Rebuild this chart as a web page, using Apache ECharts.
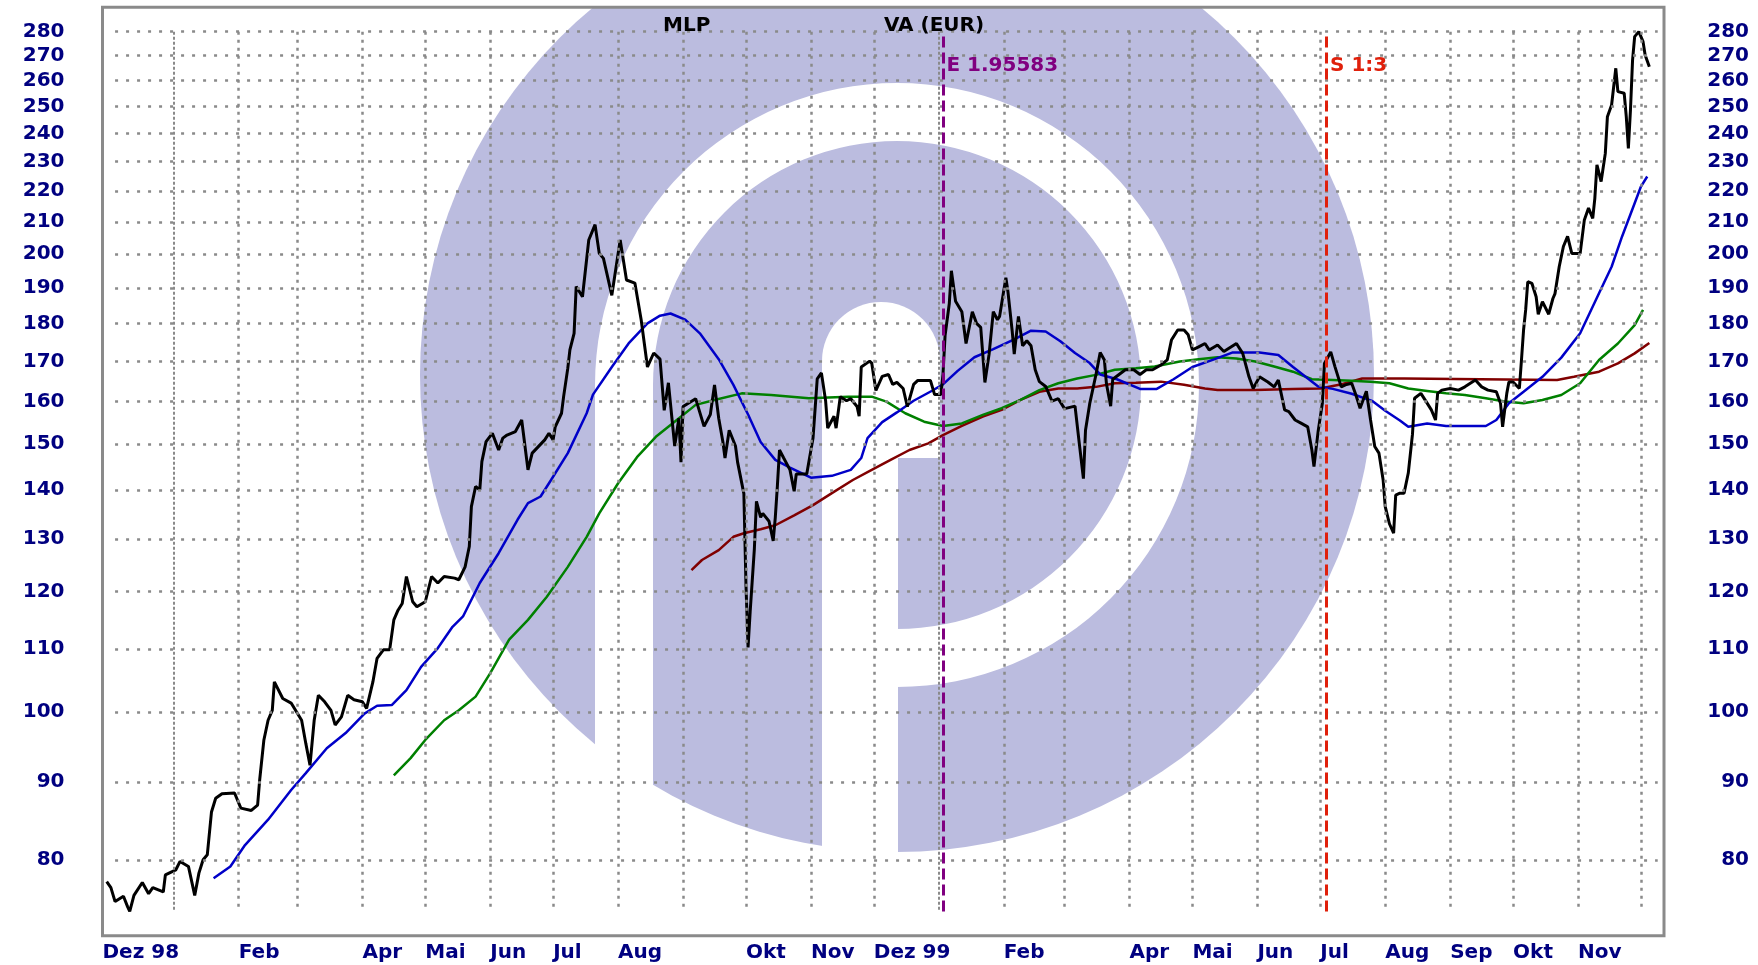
<!DOCTYPE html>
<html>
<head>
<meta charset="utf-8">
<title>MLP VA (EUR)</title>
<script src="https://cdn.jsdelivr.net/npm/echarts@6.0.0/dist/echarts.min.js"></script>
<style>
  html, body { margin: 0; padding: 0; background: #fff; }
  #chart { width: 1758px; height: 965px; }
</style>
</head>
<body>
<div id="chart"></div>
<script>
// Schlusskurse
const closeDates = [
  '1998-11-30',
  '1998-12-02','1998-12-04','1998-12-08','1998-12-10','1998-12-11','1998-12-13','1998-12-17','1998-12-20','1998-12-22','1998-12-27','1998-12-28',
  '1999-01-02','1999-01-04','1999-01-08','1999-01-11','1999-01-13','1999-01-15','1999-01-17','1999-01-19','1999-01-21','1999-01-24','1999-01-30',
  '1999-02-02','1999-02-07','1999-02-10','1999-02-11','1999-02-13','1999-02-15','1999-02-17','1999-02-18','1999-02-22','1999-02-26',
  '1999-03-03','1999-03-05','1999-03-07','1999-03-09','1999-03-11','1999-03-14','1999-03-17','1999-03-19','1999-03-22','1999-03-25','1999-03-28',
  '1999-04-01','1999-04-03','1999-04-06','1999-04-08','1999-04-11','1999-04-14','1999-04-16','1999-04-18','1999-04-20','1999-04-22','1999-04-25','1999-04-27',
  '1999-05-01','1999-05-04','1999-05-07','1999-05-10','1999-05-15','1999-05-17','1999-05-20','1999-05-22','1999-05-23','1999-05-25','1999-05-27','1999-05-28','1999-05-30',
  '1999-06-02','1999-06-05','1999-06-07','1999-06-09','1999-06-13','1999-06-16','1999-06-19','1999-06-21','1999-06-27','1999-06-29',
  '1999-07-01','1999-07-02','1999-07-05','1999-07-06','1999-07-08','1999-07-09','1999-07-11','1999-07-12','1999-07-15','1999-07-18','1999-07-21','1999-07-23','1999-07-25','1999-07-29',
  '1999-08-02','1999-08-05','1999-08-09','1999-08-12','1999-08-15','1999-08-18','1999-08-21','1999-08-23','1999-08-25','1999-08-28','1999-08-30','1999-08-31',
  '1999-09-01','1999-09-07','1999-09-11','1999-09-14','1999-09-16','1999-09-18','1999-09-20','1999-09-21','1999-09-23','1999-09-26','1999-09-27','1999-09-30',
  '1999-10-01','1999-10-02','1999-10-03','1999-10-05','1999-10-06','1999-10-08','1999-10-09','1999-10-12','1999-10-14','1999-10-15','1999-10-16','1999-10-17','1999-10-19','1999-10-22','1999-10-24','1999-10-25','1999-10-30',
  '1999-11-02','1999-11-04','1999-11-06','1999-11-08','1999-11-09','1999-11-12','1999-11-13','1999-11-15','1999-11-18','1999-11-20','1999-11-23','1999-11-24','1999-11-25','1999-11-29','1999-11-30',
  '1999-12-02','1999-12-05','1999-12-08','1999-12-10','1999-12-12','1999-12-15','1999-12-17','1999-12-20','1999-12-22','1999-12-28','1999-12-30',
  '2000-01-02','2000-01-03','2000-01-04','2000-01-06','2000-01-07','2000-01-09','2000-01-12','2000-01-14','2000-01-17','2000-01-19','2000-01-21','2000-01-23','2000-01-25','2000-01-27','2000-01-29','2000-01-30',
  '2000-02-02','2000-02-03','2000-02-05','2000-02-06','2000-02-08','2000-02-10','2000-02-12','2000-02-14','2000-02-16','2000-02-18','2000-02-21','2000-02-24','2000-02-27',
  '2000-03-01','2000-03-06','2000-03-08','2000-03-10','2000-03-11','2000-03-13','2000-03-16','2000-03-18','2000-03-20','2000-03-21','2000-03-23','2000-03-24','2000-03-27','2000-03-30',
  '2000-04-03','2000-04-06','2000-04-09','2000-04-12','2000-04-16','2000-04-19','2000-04-21','2000-04-24','2000-04-27','2000-04-29',
  '2000-05-01','2000-05-04','2000-05-07','2000-05-09','2000-05-13','2000-05-16','2000-05-22','2000-05-25','2000-05-28','2000-05-30',
  '2000-06-02','2000-06-06','2000-06-09','2000-06-11','2000-06-14','2000-06-16','2000-06-19','2000-06-22','2000-06-25','2000-06-27','2000-06-28','2000-06-30',
  '2000-07-02','2000-07-03','2000-07-06','2000-07-08','2000-07-11','2000-07-13','2000-07-16','2000-07-18','2000-07-20','2000-07-23','2000-07-25','2000-07-27','2000-07-29','2000-07-31',
  '2000-08-01','2000-08-03','2000-08-05','2000-08-06','2000-08-08','2000-08-10','2000-08-12','2000-08-14','2000-08-15','2000-08-18','2000-08-20','2000-08-23','2000-08-25','2000-08-26','2000-08-28',
  '2000-09-01','2000-09-05','2000-09-08','2000-09-13','2000-09-16','2000-09-19','2000-09-23','2000-09-25','2000-09-26','2000-09-28','2000-09-29',
  '2000-10-01','2000-10-04','2000-10-05','2000-10-06','2000-10-07','2000-10-08','2000-10-10','2000-10-12','2000-10-13','2000-10-15','2000-10-18','2000-10-20','2000-10-21','2000-10-23','2000-10-25','2000-10-27','2000-10-29',
  '2000-11-02','2000-11-04','2000-11-06','2000-11-08','2000-11-09','2000-11-10','2000-11-12','2000-11-14','2000-11-15','2000-11-17','2000-11-19','2000-11-20','2000-11-23','2000-11-24','2000-11-25','2000-11-26','2000-11-27','2000-11-28','2000-11-30',
  '2000-12-02','2000-12-03','2000-12-05'
];
const closeValues = [
  77.4,
  76.7,75.1,75.7,74.5,74.0,75.8,77.3,76.0,76.7,76.2,78.2,
  78.8,79.8,79.2,75.8,78.4,80.0,80.6,86.0,87.8,88.4,88.5,
  86.5,86.2,86.9,90.3,95.9,98.8,100.3,104.7,102.1,101.4,
  98.8,95.4,92.3,98.8,102.6,101.6,100.3,98.1,99.3,102.6,101.9,
  101.6,100.6,104.7,108.5,109.9,109.9,115.0,116.7,117.9,122.8,118.2,117.3,
  118.2,122.8,121.6,122.8,122.5,122.2,124.6,128.5,136.5,140.7,140.0,146.1,150.6,
  152.5,148.7,151.4,152.1,152.9,155.6,144.3,148.0,151.0,152.5,
  151.0,154.0,157.2,161.2,168.3,173.0,177.4,190.4,187.5,204.3,209.1,200.2,198.7,187.9,
  204.3,192.3,191.4,181.1,168.6,172.2,170.6,157.9,164.6,149.6,156.0,146.0,
  158.8,160.7,154.1,156.9,164.1,156.0,150.5,146.9,153.2,149.6,146.0,139.2,
  121.3,110.3,116.4,128.0,137.6,134.3,135.1,133.5,129.6,134.3,140.9,148.7,146.9,144.3,139.7,143.4,143.4,
  151.4,165.6,167.1,160.2,153.7,156.5,153.7,161.2,160.2,160.7,158.8,156.5,168.6,170.1,169.6,
  162.7,166.2,166.7,164.2,164.7,163.2,158.8,164.2,165.2,165.2,161.7,
  161.7,166.7,176.8,185.5,195.0,186.2,183.3,174.7,183.3,180.1,179.0,164.7,171.9,183.3,181.1,182.0,
  193.0,188.9,178.1,171.9,182.0,174.1,175.4,174.1,167.9,164.9,163.7,160.1,160.7,
  158.3,158.9,150.3,142.4,153.2,159.5,166.7,172.3,170.4,164.3,158.9,165.5,166.7,167.9,
  167.9,166.7,167.9,167.9,169.1,170.4,175.6,178.3,178.3,177.0,
  173.0,173.8,174.7,173.0,174.3,172.6,174.7,172.1,166.1,163.2,
  166.1,164.8,163.6,165.3,158.0,157.6,155.6,154.8,154.0,148.7,145.0,153.0,
  159.6,169.5,172.5,168.7,163.6,164.1,164.5,161.6,158.4,162.5,155.6,149.5,148.0,142.1,
  136.5,133.0,131.1,138.9,139.3,139.3,143.6,152.3,160.8,162.0,160.4,158.0,155.6,162.0,162.8,
  163.2,162.8,163.6,165.3,163.6,162.8,162.4,159.6,154.0,162.0,164.8,
  164.8,163.2,170.4,178.3,183.8,191.8,191.3,187.5,182.6,186.1,182.6,187.0,188.4,196.2,202.3,205.4,200.2,
  200.2,210.6,214.4,211.1,217.6,228.9,223.2,232.9,246.2,250.6,264.9,255.7,255.1,246.2,234.7,248.7,268.2,277.9,280.0,
  275.8,270.3,265.5
];

// gleitende Durchschnitte (blau / gruen / dunkelrot)
const maShortDates = [
  '1999-01-20','1999-01-28','1999-02-04','1999-02-15','1999-02-26','1999-03-05','1999-03-15','1999-03-24','1999-04-02','1999-04-08',
  '1999-04-15','1999-04-22','1999-04-29','1999-05-07','1999-05-14','1999-05-19','1999-05-27','1999-06-05','1999-06-14','1999-06-19',
  '1999-06-25','1999-06-30','1999-07-08','1999-07-17','1999-07-20','1999-07-29','1999-08-06','1999-08-15','1999-08-21','1999-08-26',
  '1999-09-02','1999-09-09','1999-09-18','1999-09-25','1999-10-02','1999-10-08','1999-10-15','1999-10-22','1999-11-01','1999-11-11',
  '1999-11-20','1999-11-25','1999-11-28','1999-12-05','1999-12-12','1999-12-20','1999-12-29','2000-01-03','2000-01-10','2000-01-18',
  '2000-01-27','2000-02-06','2000-02-14','2000-02-21','2000-02-28','2000-03-06','2000-03-13','2000-03-18','2000-03-26','2000-04-06',
  '2000-04-14','2000-04-22','2000-05-01','2000-05-11','2000-05-20','2000-06-02','2000-06-11','2000-06-18','2000-06-24','2000-06-30',
  '2000-07-07','2000-07-16','2000-07-26','2000-08-01','2000-08-08','2000-08-12','2000-08-21','2000-08-30','2000-09-18','2000-09-23',
  '2000-09-29','2000-10-06','2000-10-15','2000-10-24','2000-11-02','2000-11-11','2000-11-17','2000-11-22','2000-11-28','2000-12-01',
  '2000-12-04'
];
const maShortValues = [
  77.8,79.2,81.8,85.0,88.9,91.2,94.7,96.9,99.8,101.0,
  101.1,103.4,107.1,110.2,113.8,115.6,121.6,127.2,133.8,137.2,
  138.6,142.1,148.0,157.2,161.7,168.6,174.7,180.1,182.2,182.8,
  181.1,177.4,170.6,164.1,156.9,150.5,146.5,144.8,142.6,143.0,
  144.3,146.9,151.4,155.1,157.4,160.2,162.7,164.2,167.6,171.1,
  173.2,175.8,178.1,177.9,175.3,172.2,169.6,166.7,165.5,163.1,
  163.1,165.5,168.6,170.5,172.3,172.3,171.7,168.6,166.1,163.7,
  163.1,161.9,160.1,157.8,155.5,154.0,154.8,154.2,154.2,155.6,
  159.6,162.4,166.1,171.0,177.4,188.5,196.2,205.4,216.0,221.5,
  224.9
];

const maMidDates = [
  '1999-04-16','1999-04-24','1999-05-01','1999-05-10','1999-05-17','1999-05-25','1999-06-01','1999-06-10','1999-06-19','1999-06-28',
  '1999-07-08','1999-07-17','1999-07-23','1999-08-01','1999-08-10','1999-08-19','1999-08-29','1999-09-07','1999-09-16','1999-09-29',
  '1999-10-13','1999-10-31','1999-11-19','1999-11-30','1999-12-07','1999-12-16','1999-12-25','2000-01-03','2000-01-12','2000-01-22',
  '2000-01-31','2000-02-09','2000-02-18','2000-02-27','2000-03-07','2000-03-16','2000-03-25','2000-04-04','2000-04-13','2000-04-25',
  '2000-05-04','2000-05-13','2000-05-22','2000-05-31','2000-06-09','2000-06-18','2000-06-27','2000-07-07','2000-07-16','2000-07-25',
  '2000-08-03','2000-08-12','2000-08-21','2000-08-30','2000-09-08','2000-09-18','2000-09-27','2000-10-06','2000-10-15','2000-10-24',
  '2000-11-02','2000-11-11','2000-11-20','2000-11-28','2000-12-02'
];
const maMidValues = [
  90.9,93.3,95.9,98.8,100.3,102.4,106.1,111.6,115.0,119.1,
  124.6,130.4,135.1,141.4,147.1,151.7,155.6,159.2,160.4,162.0,
  161.6,160.8,161.2,161.2,160.0,157.2,155.2,154.2,154.8,156.8,
  158.4,160.4,162.8,164.5,165.7,166.6,167.9,168.3,168.7,170.0,
  170.6,171.1,170.8,170.0,168.7,167.4,165.5,165.3,165.1,164.9,
  164.5,163.2,162.6,162.0,161.6,160.8,160.0,159.6,160.4,161.6,
  164.5,170.4,174.7,179.6,183.8
];

const maLongDates = [
  '1999-09-05','1999-09-10','1999-09-18','1999-09-25','1999-09-30','1999-10-08','1999-10-15','1999-10-24','1999-11-02','1999-11-11',
  '1999-11-21','1999-11-30','1999-12-09','1999-12-18','1999-12-27','2000-01-03','2000-01-12','2000-01-22','2000-01-31','2000-02-09',
  '2000-02-18','2000-02-27','2000-03-07','2000-03-16','2000-03-25','2000-04-04','2000-04-16','2000-04-27','2000-05-07','2000-05-13',
  '2000-05-31','2000-06-18','2000-07-01','2000-07-10','2000-07-21','2000-08-10','2000-10-22','2000-10-30','2000-11-11','2000-11-20',
  '2000-11-28','2000-12-05'
];
const maLongValues = [
  124.0,125.9,127.8,130.4,131.1,131.9,132.7,134.7,136.8,139.3,
  142.1,144.3,146.5,148.7,150.2,152.1,154.2,156.4,158.0,160.4,
  162.4,163.2,163.2,163.6,164.5,164.6,164.9,164.1,163.2,162.8,
  162.8,163.1,163.2,164.1,165.7,165.7,165.3,166.1,167.4,169.5,
  172.1,174.8
];

// Achsen: Kurslinien und Monatsbeschriftung
const yTicks = [80, 90, 100, 110, 120, 130, 140, 150, 160, 170, 180, 190, 200, 210, 220, 230, 240, 250, 260, 270, 280];
const xLabelDates = ['1998-11-28','1999-02-01','1999-04-01','1999-05-01','1999-06-01','1999-07-01','1999-08-01','1999-10-01','1999-11-01','1999-12-01',
  '2000-02-01','2000-04-01','2000-05-01','2000-06-01','2000-07-01','2000-08-01','2000-09-01','2000-10-01','2000-11-01'];
const xLabelTexts = ['Dez 98','Feb','Apr','Mai','Jun','Jul','Aug','Okt','Nov','Dez 99',
  'Feb','Apr','Mai','Jun','Jul','Aug','Sep','Okt','Nov'];

// Ereignisse: Euro-Umstellung und Split
const eventDates = ['2000-01-03', '2000-07-04'];
const eventTexts = ['E 1.95583', 'S 1:3'];
const eventColors = ['#800080', '#e0200b'];

function ts(s) {
  const p = s.split('-');
  return new Date(+p[0], +p[1] - 1, +p[2]).getTime();
}
function pairs(dates, values) {
  return dates.map(function (d, i) { return [ts(d), values[i]]; });
}

const monthTicks = [];
for (let y = 1999; y <= 2000; y++) {
  for (let m = 0; m < 12; m++) monthTicks.push(new Date(y, m, 1).getTime());
}
const labelMap = {};
xLabelDates.forEach(function (d, i) { labelMap[ts(d)] = xLabelTexts[i]; });

const FONT = "'DejaVu Sans', sans-serif";
const NAVY = '#000080';
const LAV = '#bbbcdf';
const GRID = '#8a8a8a';

// Rasterlinien enden wie im Original etwas vor dem Rahmen
const gridStart = ts('1998-12-04');
const gridEnd = ts('2000-12-09');
const gridTop = 280;
const gridBottom = 73.95;

const rasterLines = [];
yTicks.forEach(function (v) {
  rasterLines.push([
    { coord: [gridStart, v], lineStyle: { color: GRID, width: 2.5, type: [3, 8] } },
    { coord: [gridEnd, v] }
  ]);
});
monthTicks.forEach(function (t) {
  const yearStart = new Date(t).getMonth() === 0;
  rasterLines.push([
    { coord: [t, gridTop], lineStyle: { color: GRID, width: yearStart ? 2 : 2.5, type: yearStart ? [3, 2] : [3, 5] } },
    { coord: [t, gridBottom] }
  ]);
});

const myChart = echarts.init(document.getElementById('chart'));

const yAxisBase = {
  type: 'log',
  logBase: 10,
  min: 71.31,
  max: 290.5,
  axisLine: { show: false },
  axisTick: { show: false },
  splitLine: { show: false }
};
const labelStyle = { color: NAVY, fontFamily: FONT, fontSize: 20, fontWeight: 'bold' };

const option = {
  backgroundColor: '#ffffff',
  animation: false,
  title: [
    { text: 'MLP', left: 663, top: 16, padding: 0,
      textStyle: { fontFamily: FONT, fontSize: 20, fontWeight: 'bold', color: '#000' } },
    { text: 'VA (EUR)', left: 884, top: 16, padding: 0,
      textStyle: { fontFamily: FONT, fontSize: 20, fontWeight: 'bold', color: '#000' } }
  ],
  // Wasserzeichen im Hintergrund
  graphic: {
    elements: [
      { type: 'circle', silent: true, z: -10, shape: { cx: 897, cy: 375, r: 477 }, style: { fill: LAV } },
      { type: 'sector', silent: true, z: -9,
        shape: { cx: 897, cy: 385, r0: 244, r: 302, startAngle: Math.PI, endAngle: 2.5 * Math.PI, clockwise: true },
        style: { fill: '#fff' } },
      { type: 'rect', silent: true, z: -9, shape: { x: 595, y: 385, width: 58, height: 560 }, style: { fill: '#fff' } },
      { type: 'rect', silent: true, z: -9, shape: { x: 822, y: 302, width: 118, height: 156, r: [59, 59, 0, 0] }, style: { fill: '#fff' } },
      { type: 'rect', silent: true, z: -9, shape: { x: 822, y: 440, width: 76, height: 510 }, style: { fill: '#fff' } },
      { type: 'rect', silent: true, z: -9, shape: { x: 0, y: 0, width: 1758, height: 6 }, style: { fill: '#fff' } }
    ]
  },
  grid: {
    left: 102.5, right: 94, top: 7.3, bottom: 29.2,
    show: true, borderColor: GRID, borderWidth: 3, backgroundColor: 'transparent',
    containLabel: false, outerBoundsMode: 'none'
  },
  // Zeitachse als Zahlenachse (Zeitstempel), damit die Monatsbeschriftung frei gesetzt werden kann
  xAxis: {
    type: 'value',
    min: ts('1998-11-28'),
    max: ts('2000-12-12'),
    axisLine: { show: false },
    axisTick: { show: false },
    splitLine: { show: false },
    axisLabel: Object.assign({
      customValues: xLabelDates.map(ts),
      formatter: function (v) { return labelMap[v] || ''; },
      align: 'left',
      margin: 7,
      hideOverlap: false
    }, labelStyle)
  },
  yAxis: [
    Object.assign({}, yAxisBase, {
      position: 'left',
      axisLabel: Object.assign({ customValues: yTicks, margin: 38, padding: [0, 0, 12, 0] }, labelStyle)
    }),
    Object.assign({}, yAxisBase, {
      position: 'right',
      axisLabel: Object.assign({ customValues: yTicks, margin: 85, align: 'right', padding: [0, 0, 12, 0] }, labelStyle)
    })
  ],
  series: [
    {
      name: 'Raster', type: 'line', data: [], silent: true, z: 1,
      markLine: {
        silent: true,
        animation: false,
        symbol: ['none', 'none'],
        label: { show: false },
        emphasis: { disabled: true },
        data: rasterLines
      }
    },
    {
      name: 'GD lang', type: 'line', symbol: 'none', silent: true, z: 3,
      data: pairs(maLongDates, maLongValues),
      lineStyle: { color: '#800000', width: 2.5 }
    },
    {
      name: 'GD mittel', type: 'line', symbol: 'none', silent: true, z: 3,
      data: pairs(maMidDates, maMidValues),
      lineStyle: { color: '#008000', width: 2.5 }
    },
    {
      name: 'GD kurz', type: 'line', symbol: 'none', silent: true, z: 3,
      data: pairs(maShortDates, maShortValues),
      lineStyle: { color: '#0000c8', width: 2.5 }
    },
    {
      name: 'MLP', type: 'line', symbol: 'none', silent: true, z: 4,
      data: pairs(closeDates, closeValues),
      lineStyle: { color: '#000', width: 3 },
      markLine: {
        silent: true,
        symbol: ['none', 'none'],
        label: { show: false },
        data: eventDates.map(function (d, i) {
          return [
            { coord: [ts(d), 277.9], lineStyle: { color: eventColors[i], width: 3, type: [11, 5] } },
            { coord: [ts(d), 73.95] }
          ];
        })
      },
      markPoint: {
        silent: true,
        symbol: 'rect',
        symbolSize: 1,
        itemStyle: { color: 'rgba(0,0,0,0)' },
        data: eventDates.map(function (d, i) {
          return {
            name: eventTexts[i],
            coord: [ts(d), 266],
            label: {
              show: true, position: 'right', distance: 3, formatter: '{b}',
              color: eventColors[i], fontFamily: FONT, fontSize: 20, fontWeight: 'bold'
            }
          };
        })
      }
    }
  ]
};

myChart.setOption(option);
</script>
</body>
</html>
